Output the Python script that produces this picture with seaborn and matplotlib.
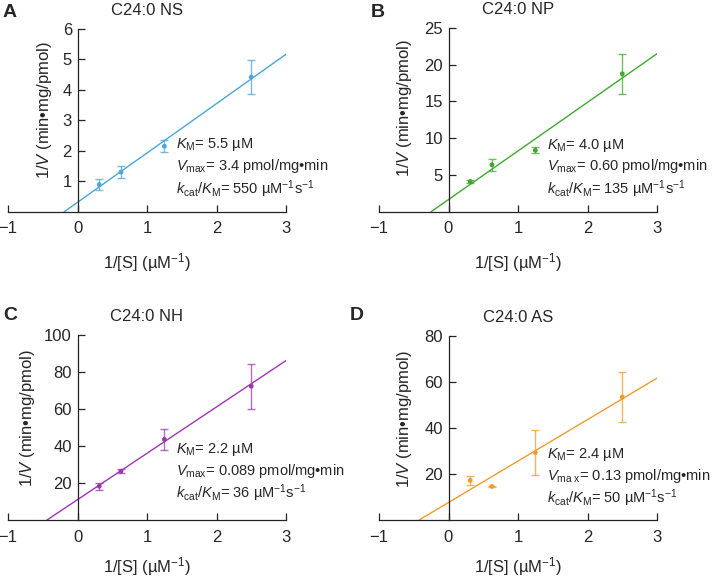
import matplotlib
matplotlib.use('Agg')
import matplotlib.pyplot as plt
import seaborn as sns

sns.set_style("ticks")
plt.rcParams['font.family'] = ['Liberation Sans', 'DejaVu Sans']
plt.rcParams['mathtext.fontset'] = 'custom'
plt.rcParams['mathtext.rm'] = 'Liberation Sans'
plt.rcParams['mathtext.it'] = 'Liberation Sans:italic'
plt.rcParams['mathtext.bf'] = 'Liberation Sans:bold'

# 1/[S] values (same for all panels)
inv_s = [0.3125, 0.625, 1.25, 2.5]

# panel data: mean 1/V and error
ns_y = [0.89, 1.30, 2.15, 4.42]
ns_err = [0.17, 0.20, 0.20, 0.56]
np_y = [4.1, 6.39, 8.36, 18.77]
np_err = [0.15, 0.80, 0.40, 2.75]
nh_y = [18.4, 26.5, 43.7, 72.4]
nh_err = [1.8, 1.1, 5.5, 12.2]
as_y = [17.3, 14.7, 29.4, 53.5]
as_err = [1.9, 0.3, 9.6, 11.0]

# fitted Lineweaver-Burk lines (x-intercept -> x=3)
ns_fit_x, ns_fit_y = [-0.19, 3], [0, 5.17]
np_fit_x, np_fit_y = [-0.25, 3], [0, 21.5]
nh_fit_x, nh_fit_y = [-0.445, 3], [0, 86.2]
as_fit_x, as_fit_y = [-0.43, 3], [0, 61.7]

titles = ['C24:0 NS', 'C24:0 NP', 'C24:0 NH', 'C24:0 AS']
letters = ['A', 'B', 'C', 'D']
ylims = [6, 25, 100, 80]
yticks = [[1, 2, 3, 4, 5, 6], [5, 10, 15, 20, 25], [20, 40, 60, 80, 100], [20, 40, 60, 80]]
colors = ['#4aa5d9', '#3fa82f', '#9c37b0', '#f39a2c']
km_txt = ['5.5', '4.0', '2.2', '2.4']
vmax_txt = ['3.4', '0.60', '0.089', '0.13']
vmax_sub = ['max', 'max', 'max', r'ma\ x']
kcat_txt = ['550', '135', '36', '50']

panels = [
    (ns_y, ns_err, ns_fit_x, ns_fit_y),
    (np_y, np_err, np_fit_x, np_fit_y),
    (nh_y, nh_err, nh_fit_x, nh_fit_y),
    (as_y, as_err, as_fit_x, as_fit_y),
]

W, H = 716, 577
fig = plt.figure(figsize=(W / 100, H / 100), dpi=100)

# axes rectangles in pixels: left, y0 (bottom line), top
rects = [(8, 211.7, 29), (379, 211.7, 28), (8, 520.3, 335), (379, 520.3, 336)]
ylab_x = [0.165, 0.125, 0.105, 0.125]
ylab_y = [0.555, 0.563, 0.55, 0.55]
xlab_y = [-0.215, -0.215, -0.19, -0.19]
txt_y = [(0.349, 0.228, 0.095), (0.341, 0.227, 0.096), (0.362, 0.243, 0.119), (0.337, 0.217, 0.092)]
letter_pos = [(3, 17), (371, 17), (3, 320), (350, 320)]

for i, (yv, err, fx, fy) in enumerate(panels):
    left, y0, top = rects[i]
    ax = fig.add_axes([left / W, (H - y0) / H, 278 / W, (y0 - top) / H])
    c = colors[i]

    ax.errorbar(inv_s, yv, yerr=err, fmt='none', ecolor=c, alpha=0.75,
                elinewidth=1.0, capsize=2.6, capthick=1.0)
    sns.lineplot(x=fx, y=fy, ax=ax, color=c, lw=1.0)
    sns.scatterplot(x=inv_s, y=yv, ax=ax, color=c, s=12, edgecolor='none', zorder=3)

    ax.set_xlim(-1, 3)
    ax.set_ylim(0, ylims[i])
    ax.set_xticks([-1, 0, 1, 2, 3])
    ax.set_yticks(yticks[i])
    ax.spines['left'].set_position(('data', 0))
    ax.spines['top'].set_visible(False)
    ax.spines['right'].set_visible(False)
    for s in ['left', 'bottom']:
        ax.spines[s].set_linewidth(0.9)
        ax.spines[s].set_color('#222222')
    ax.tick_params(axis='both', direction='in', length=5, width=0.9, labelsize=12,
                   color='#222222')
    ax.tick_params(axis='x', pad=7)
    ax.tick_params(axis='y', pad=4)

    ax.set_xlabel(r'1/[S] (µM$^{-1}$)', fontsize=12)
    ax.xaxis.set_label_coords(0.5, xlab_y[i])
    ax.set_ylabel(r'1/$V$ (min•mg/pmol)', fontsize=12)
    ax.yaxis.set_label_coords(ylab_x[i], ylab_y[i])
    ax.set_title(titles[i], fontsize=12, pad=10)

    ty = txt_y[i]
    ax.text(0.605, ty[0], r'$K_{\mathrm{M}}$' + '= ' + km_txt[i] + ' µM',
            transform=ax.transAxes, fontsize=10.5)
    ax.text(0.605, ty[1], r'$V_{\mathrm{' + vmax_sub[i] + '}}$' + '= ' + vmax_txt[i] + ' pmol/mg•min',
            transform=ax.transAxes, fontsize=10.5)
    ax.text(0.605, ty[2], r'$k_{\mathrm{cat}}/K_{\mathrm{M}}$' + '= ' + kcat_txt[i]
            + r' µM$^{-1}$s$^{-1}$', transform=ax.transAxes, fontsize=10.5)

    lx, ly = letter_pos[i]
    fig.text(lx / W, 1 - ly / H, letters[i], fontsize=14, fontweight='bold')

fig.savefig('out.png', dpi=100)
